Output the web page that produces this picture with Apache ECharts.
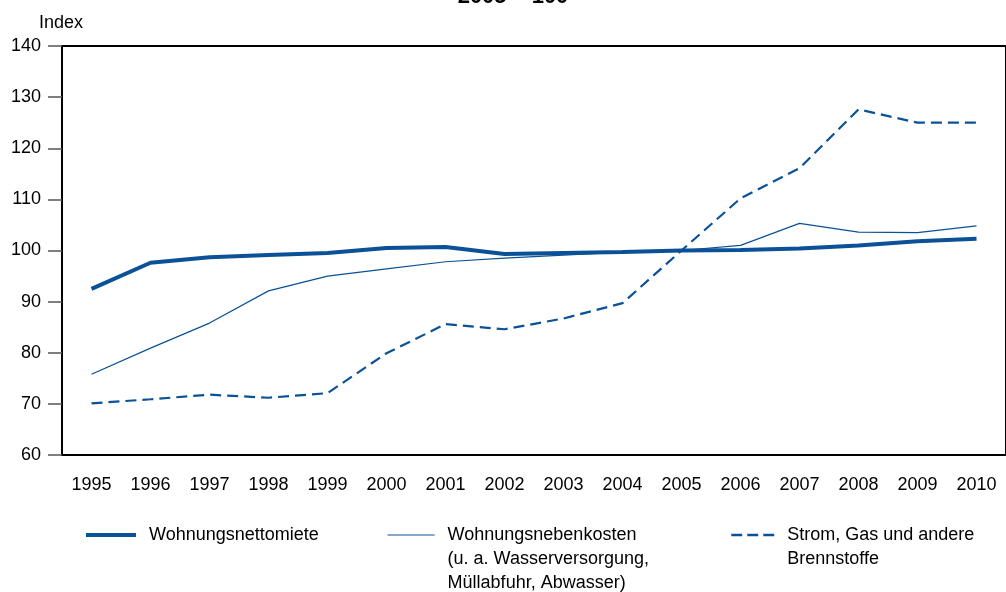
<!DOCTYPE html>
<html>
<head>
<meta charset="utf-8">
<script src="https://cdn.jsdelivr.net/npm/echarts@6/dist/echarts.min.js"></script>
<style>
  html, body { margin: 0; padding: 0; background: #fff; }
  #chart { width: 1006px; height: 592px; }
</style>
</head>
<body>
<div id="chart"></div>
<script>
var years = ['1995', '1996', '1997', '1998', '1999', '2000', '2001', '2002',
	'2003', '2004', '2005', '2006', '2007', '2008', '2009', '2010'];
var nettomiete = [92.5, 97.6, 98.7, 99.1, 99.5, 100.5, 100.7, 99.3,
	99.5, 99.7, 100.0, 100.1, 100.4, 101.0, 101.8, 102.3];
var nebenkosten = [75.8, 80.9, 85.8, 92.1, 95.0, 96.4, 97.8, 98.5,
	99.1, 99.7, 100.0, 101.0, 105.3, 103.6, 103.5, 104.8];
var energie = [70.1, 70.9, 71.8, 71.2, 72.1, 79.9, 85.6, 84.6,
	86.7, 89.7, 100.0, 110.2, 116.1, 127.6, 125.0, 125.0];
var seriesNames = ['Wohnungsnettomiete',
	'Wohnungsnebenkosten\n(u. a. Wasserversorgung,\nMüllabfuhr, Abwasser)',
	'Strom, Gas und andere\nBrennstoffe'];

var blue = '#0a5197';
var font = 'Liberation Sans, Arial, sans-serif';

// one legend per entry; empty lines in front keep the icon on the first text line
function makeLegend(name, left, width, lineWidth, dash) {
	var extraLines = name.split('\n').length - 1;
	var pad = '';
	for (var i = 0; i < extraLines; i++) pad += '\n';
	return {
		data : [ name ],
		left : left,
		top : 523 - extraLines * 24,
		itemWidth : width,
		itemHeight : 14,
		itemGap : 0,
		padding : 0,
		itemStyle : { opacity : 0 },
		lineStyle : { width : lineWidth, type : dash || 'solid', color : blue },
		formatter : function (n) { return pad + n; },
		textStyle : {
			fontFamily : font,
			fontSize : 18,
			color : '#000',
			lineHeight : 24,
			padding : [ 0, 0, 0, 8 ]
		}
	};
}

var chart = echarts.init(document.getElementById('chart'));
var option = {
	animation : false,
	backgroundColor : '#fff',
	title : {
		text : '2005 = 100',
		left : 508,
		textAlign : 'center',
		top : -19,
		textStyle : { fontFamily : font, fontSize : 22, fontWeight : 'bold', color : '#000' }
	},
	legend : [
		makeLegend(seriesNames[0], 84, 50, 4),
		makeLegend(seriesNames[1], 387, 47, 1.2),
		makeLegend(seriesNames[2], 730, 43, 2.5, [ 11, 5 ])
	],
	grid : {
		left : 62,
		top : 46,
		width : 951,
		height : 409,
		show : true,
		borderColor : '#000',
		borderWidth : 2
	},
	xAxis : {
		type : 'category',
		data : years,
		boundaryGap : true,
		axisLine : { lineStyle : { color : '#000', width : 2 } },
		axisTick : { alignWithLabel : true, length : 14, lineStyle : { color : '#555', width : 1.5 } },
		axisLabel : { fontFamily : font, fontSize : 18, color : '#000', margin : 21 }
	},
	yAxis : {
		type : 'value',
		min : 60,
		max : 140,
		interval : 10,
		name : 'Index',
		nameLocation : 'end',
		nameGap : 14,
		nameTextStyle : { fontFamily : font, fontSize : 18, color : '#000', align : 'left', padding : [ 0, 0, 0, -23 ] },
		axisLine : { show : true, lineStyle : { color : '#000', width : 2 } },
		axisTick : { show : true, length : 14, lineStyle : { color : '#555', width : 1.5 } },
		splitLine : { show : false },
		axisLabel : { fontFamily : font, fontSize : 18, color : '#000', margin : 21 }
	},
	series : [ {
		name : seriesNames[0],
		type : 'line',
		data : nettomiete,
		symbol : 'none',
		lineStyle : { color : blue, width : 4 },
		itemStyle : { color : blue }
	}, {
		name : seriesNames[1],
		type : 'line',
		data : nebenkosten,
		symbol : 'none',
		lineStyle : { color : blue, width : 1.2 },
		itemStyle : { color : blue }
	}, {
		name : seriesNames[2],
		type : 'line',
		data : energie,
		symbol : 'none',
		lineStyle : { color : blue, width : 2.2, type : [ 11, 6 ] },
		itemStyle : { color : blue }
	} ]
};
chart.setOption(option);
</script>
</body>
</html>
